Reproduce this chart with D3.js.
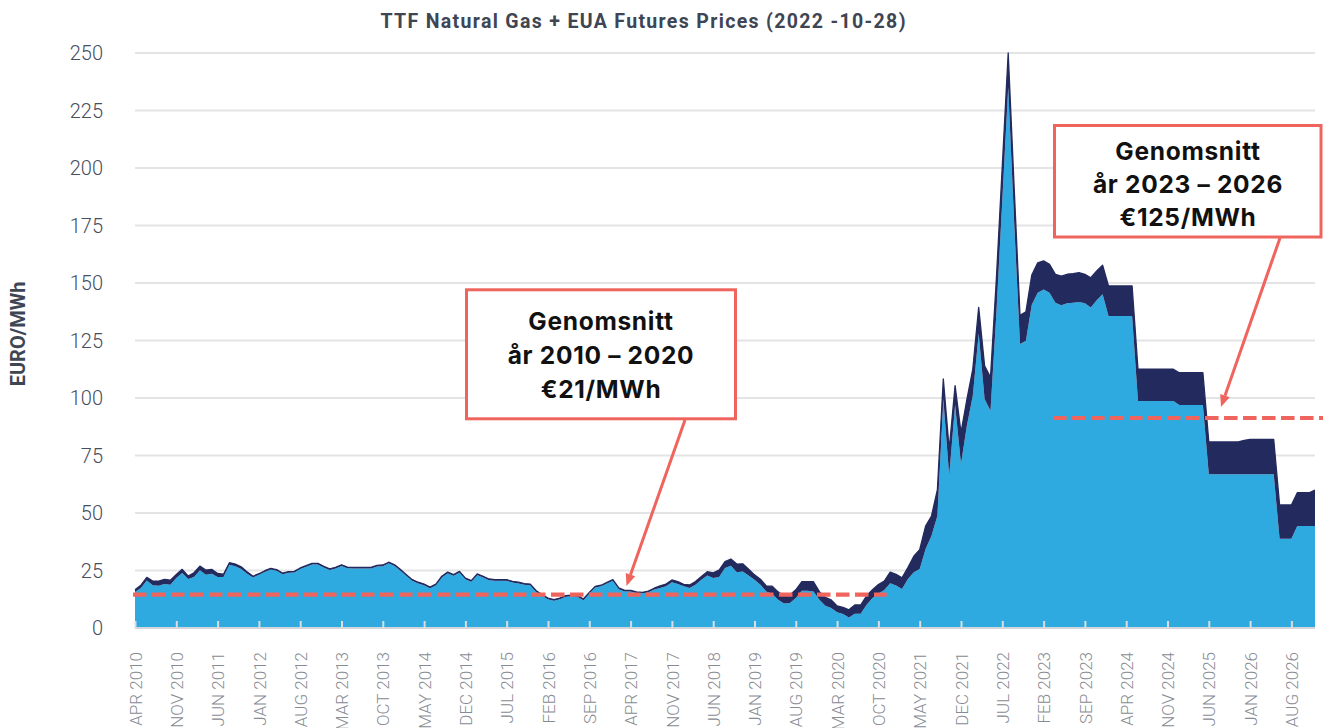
<!DOCTYPE html>
<html><head><meta charset="utf-8">
<script src="https://cdn.jsdelivr.net/npm/d3@7"></script>
<style>
html,body{margin:0;padding:0;background:#fff;}
svg{display:block;}
</style></head><body>
<svg id="chart" width="1323" height="728"></svg>
<script>
// ---- DATA (monthly, APR 2010 .. DEC 2026) ----
const startYear = 2010, startMonth = 3; // April
const monthNames = ["JAN","FEB","MAR","APR","MAY","JUN","JUL","AUG","SEP","OCT","NOV","DEC"];

// TTF natural gas (EUR/MWh) - light blue layer
const ttf = [
  15.7, 17.4, 20.6, 18.6, 18.4, 19.1, 18.8, 21.7, 23.9, 21.3,
  22.2, 25.1, 23.2, 23.6, 22.2, 22.2, 27.5, 26.8, 25.7, 23.6,
  22.0, 23.1, 24.4, 25.4, 24.9, 23.4, 24.0, 24.1, 25.6, 26.6,
  27.6, 27.6, 26.3, 25.2, 25.9, 27.0, 26.0, 25.9, 25.9, 25.9,
  25.9, 26.7, 26.9, 28.1, 27.0, 24.9, 22.7, 20.5, 19.4, 18.6,
  17.3, 18.6, 22.0, 23.8, 22.7, 24.1, 21.2, 20.1, 23.0, 22.0,
  20.8, 20.5, 20.5, 20.5, 19.8, 19.4, 18.8, 18.6, 15.7, 14.0,
  12.5, 11.8, 12.5, 13.6, 13.8, 13.6, 12.1, 15.0, 17.6, 18.1,
  19.4, 20.5, 16.9, 15.9, 15.9, 15.2, 15.1, 15.5, 16.7, 17.4,
  18.1, 19.9, 19.1, 18.1, 17.4, 18.8, 21.0, 22.8, 21.7, 22.2,
  26.1, 27.1, 24.2, 24.6, 22.8, 21.0, 18.8, 15.9, 14.9, 12.3,
  10.6, 10.9, 13.0, 16.2, 16.2, 15.9, 12.3, 9.7, 8.7, 6.8,
  6.1, 4.6, 6.2, 6.2, 10.1, 13.0, 15.0, 16.5, 19.5, 18.5,
  17.0, 21.3, 24.2, 25.7, 34.3, 40.1, 48.8, 99.6, 66.2, 97.0,
  71.3, 88.0, 101.0, 128.0, 99.6, 94.5, 137.0, 186.0, 235.0, 177.0,
  123.5, 124.9, 140.5, 145.8, 147.2, 145.8, 141.4, 140.3, 141.2, 141.4,
  141.7, 141.2, 139.3, 142.5, 145.1, 135.7, 135.7, 135.7, 135.7, 135.7,
  98.7, 98.7, 98.7, 98.7, 98.7, 98.7, 98.7, 97.0, 97.0, 97.0,
  97.0, 97.0, 66.8, 66.8, 66.8, 66.8, 66.8, 66.8, 66.8, 66.8,
  66.8, 66.8, 66.8, 66.8, 38.8, 38.8, 38.8, 44.3, 44.3, 44.3,
  44.3
];

// EUA carbon cost (EUR/MWh) - dark navy layer on top
const eua = [
  0.9, 1.2, 1.4, 1.8, 2.0, 2.0, 2.0, 1.6, 1.6, 1.3,
  1.8, 1.8, 2.0, 1.9, 1.5, 1.2, 0.9, 1.0, 0.9, 0.8,
  0.5, 0.5, 0.5, 0.5, 0.5, 0.5, 0.5, 0.5, 0.5, 0.5,
  0.5, 0.5, 0.5, 0.5, 0.5, 0.5, 0.5, 0.5, 0.5, 0.5,
  0.5, 0.5, 0.5, 0.5, 0.5, 0.5, 0.5, 0.5, 0.5, 0.5,
  0.5, 0.5, 0.5, 0.5, 0.5, 0.5, 0.5, 0.5, 0.5, 0.5,
  0.5, 0.5, 0.5, 0.5, 0.5, 0.5, 0.5, 0.5, 0.5, 0.5,
  0.5, 0.5, 0.5, 0.5, 0.5, 0.5, 0.5, 0.5, 0.5, 0.5,
  0.5, 0.5, 0.5, 0.5, 0.5, 0.5, 0.4, 0.5, 0.6, 0.9,
  1.0, 1.0, 1.1, 0.9, 1.3, 1.4, 1.4, 1.7, 2.3, 3.0,
  2.8, 2.9, 3.6, 3.3, 2.8, 2.1, 2.4, 2.4, 3.3, 3.4,
  3.4, 3.5, 3.6, 3.9, 3.9, 4.2, 3.5, 3.6, 3.5, 2.8,
  2.9, 3.3, 3.8, 3.8, 3.9, 3.6, 3.9, 3.9, 4.8, 4.8,
  4.8, 5.0, 7.0, 8.4, 10.0, 8.6, 11.4, 8.7, 11.5, 8.4,
  13.6, 11.4, 11.6, 11.4, 14.4, 14.5, 15.0, 15.0, 15.0, 15.0,
  12.5, 12.6, 13.0, 13.0, 12.4, 12.3, 12.4, 12.7, 12.6, 12.7,
  12.8, 12.6, 13.0, 12.7, 12.6, 13.0, 13.0, 13.0, 13.0, 13.0,
  13.8, 13.8, 13.8, 13.8, 13.8, 13.8, 13.8, 14.0, 14.0, 14.0,
  14.0, 14.0, 14.1, 14.1, 14.1, 14.1, 14.1, 14.1, 14.8, 15.2,
  15.2, 15.2, 15.2, 15.2, 14.7, 14.7, 14.7, 14.5, 14.5, 14.5,
  15.7
];

const tickLabels = ["APR 2010","NOV 2010","JUN 2011","JAN 2012","AUG 2012","MAR 2013","OCT 2013",
  "MAY 2014","DEC 2014","JUL 2015","FEB 2016","SEP 2016","APR 2017","NOV 2017","JUN 2018",
  "JAN 2019","AUG 2019","MAR 2020","OCT 2020","MAY 2021","DEC 2021","JUL 2022","FEB 2023",
  "SEP 2023","APR 2024","NOV 2024","JUN 2025","JAN 2026","AUG 2026"];
const yTicks = [0, 25, 50, 75, 100, 125, 150, 175, 200, 225, 250];

// average reference lines: [start month, end month, value]
const avgStart = ["APR 2010", "APR 2023"];
const avgEnd   = ["NOV 2020", "DEC 2026"];
const avgValue = [14.5, 91.3];

const title = "TTF Natural Gas + EUA Futures Prices (2022 -10-28)";
const yTitle = "EURO/MWh";
const box1Lines = ["Genomsnitt", "år 2010 – 2020", "€21/MWh"];
const box2Lines = ["Genomsnitt", "år 2023 – 2026", "€125/MWh"];

// ---- BUILD ----
const months = d3.range(ttf.length).map(i => {
  const t = startMonth + i;
  return monthNames[t % 12] + " " + (startYear + Math.floor(t / 12));
});
const rows = months.map((m, i) => ({ month: m, ttf: ttf[i], eua: eua[i] }));

const W = 1323, H = 728;
const plot = { left: 135, right: 1315, top: 53, bottom: 628 };
const BLUE = "#2EAAE1", NAVY = "#222A5E", RED = "#F0645E";

const svg = d3.select("#chart");
const x = d3.scalePoint().domain(months).range([plot.left, plot.right]);
const xi = d3.scaleLinear().domain([0, months.length - 1]).range([plot.left, plot.right]);
const y = d3.scaleLinear().domain([0, 250]).range([plot.bottom, plot.top]);

// gridlines
svg.append("g").selectAll("line").data(yTicks.filter(d => d > 0)).join("line")
  .attr("x1", plot.left).attr("x2", plot.right)
  .attr("y1", d => y(d)).attr("y2", d => y(d))
  .attr("stroke", "#E3E4E6").attr("stroke-width", 2);

// y tick labels
svg.append("g").selectAll("text").data(yTicks).join("text")
  .attr("x", 103).attr("y", d => y(d)).attr("dy", "0.36em")
  .attr("text-anchor", "end")
  .attr("font-family", "Roboto, 'Noto Sans', sans-serif").attr("font-weight", 300)
  .attr("font-size", 20).attr("fill", "#474E5E")
  .text(d => d);

// stacked areas
const series = d3.stack().keys(["ttf", "eua"])(rows);
const area = d3.area()
  .x(d => x(d.data.month))
  .y0(d => y(d[0])).y1(d => y(d[1]));
svg.append("g").selectAll("path").data(series).join("path")
  .attr("d", area)
  .attr("fill", (d, i) => i === 0 ? BLUE : NAVY);

// top outline
svg.append("path").datum(series[1])
  .attr("d", d3.line().x(d => x(d.data.month)).y(d => y(d[1])))
  .attr("fill", "none").attr("stroke", NAVY).attr("stroke-width", 1.3)
  .attr("stroke-linejoin", "round");

// x axis
const xAxis = d3.axisBottom(x)
  .tickValues(tickLabels)
  .tickSizeInner(-7).tickSizeOuter(0).tickPadding(24);
const gx = svg.append("g").attr("transform", `translate(0,${plot.bottom})`).call(xAxis);
gx.select(".domain").attr("stroke", "#D3D6DB").attr("stroke-width", 2)
  .attr("d", `M${plot.left},0H${plot.right}`);
gx.selectAll(".tick line").attr("stroke", "#DADDE2").attr("stroke-width", 2);
gx.selectAll(".tick text")
  .attr("transform", "rotate(-90)")
  .attr("x", -24).attr("y", 0).attr("dy", "0.36em")
  .attr("text-anchor", "end")
  .attr("font-family", "Roboto, 'Noto Sans', sans-serif").attr("font-weight", 300)
  .attr("font-size", 17).attr("fill", "#878B93");

// average dashed lines
const avg = avgValue.map((v, i) => ({ s: months.indexOf(avgStart[i]), e: months.indexOf(avgEnd[i]), v }));
svg.append("g").selectAll("line").data(avg).join("line")
  .attr("x1", (d, i) => i === 0 ? xi(d.s) - 2 : xi(d.s - 0.4))
  .attr("x2", (d, i) => i === 0 ? xi(d.e + 0.4) : W)
  .attr("y1", d => y(d.v)).attr("y2", d => y(d.v))
  .attr("stroke", RED).attr("stroke-width", 4.2)
  .attr("stroke-dasharray", "13.5 5.5");

// annotation boxes
function box(bx, by, bw, bh, lines, cx, baselines) {
  const g = svg.append("g");
  g.append("rect").attr("x", bx).attr("y", by).attr("width", bw).attr("height", bh)
    .attr("fill", "#fff").attr("stroke", RED).attr("stroke-width", 3);
  g.selectAll("text").data(lines).join("text")
    .attr("x", cx).attr("y", (d, i) => baselines[i])
    .attr("text-anchor", "middle")
    .attr("font-family", "Inter, Roboto, sans-serif").attr("font-weight", 700)
    .attr("font-size", 24.5).attr("letter-spacing", 0.7).attr("fill", "#111")
    .text(d => d);
}
function arrow(x1, y1, x2, y2) {
  const ang = Math.atan2(y2 - y1, x2 - x1);
  const L = 12, Wd = 5;
  const bx = x2 - L * Math.cos(ang), by = y2 - L * Math.sin(ang);
  svg.append("line").attr("x1", x1).attr("y1", y1).attr("x2", bx).attr("y2", by)
    .attr("stroke", RED).attr("stroke-width", 3);
  svg.append("path")
    .attr("d", `M${x2},${y2}L${bx + Wd * Math.sin(ang)},${by - Wd * Math.cos(ang)}L${bx - Wd * Math.sin(ang)},${by + Wd * Math.cos(ang)}Z`)
    .attr("fill", RED);
}
arrow(685, 420, 626.5, 586);
arrow(1280, 238, 1221, 407);
box(466.5, 289.8, 269, 129, box1Lines, 601, [330, 364, 398]);
box(1054.5, 125.5, 266.5, 111.5, box2Lines, 1188, [160, 193, 226]);

// title
svg.append("text").attr("x", 643).attr("y", 28)
  .attr("text-anchor", "middle")
  .attr("font-family", "Roboto, 'Noto Sans', sans-serif").attr("font-weight", 700)
  .attr("font-size", 19.5).attr("fill", "#3E4553")
  .attr("textLength", 525).attr("lengthAdjust", "spacing")
  .text(title);

// y title
svg.append("text").attr("transform", "translate(25,334) rotate(-90)")
  .attr("text-anchor", "middle")
  .attr("font-family", "Roboto, 'Noto Sans', sans-serif").attr("font-weight", 700)
  .attr("font-size", 20).attr("fill", "#3E4553")
  .text(yTitle);
</script>
</body></html>
